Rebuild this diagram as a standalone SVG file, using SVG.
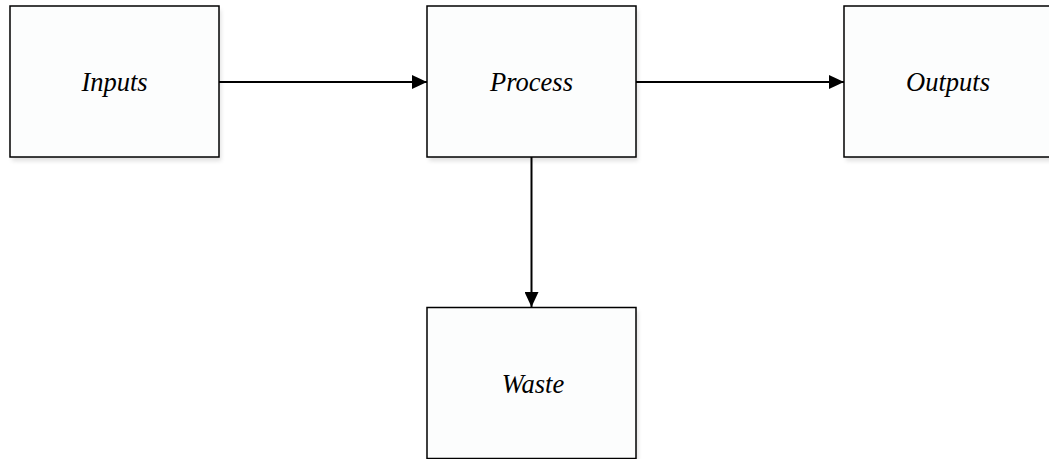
<svg xmlns="http://www.w3.org/2000/svg" width="1049" height="459" viewBox="0 0 1049 459">
<style>
.box{fill:#fcfdfd;stroke:#000;stroke-width:1.5}
.sh{fill:#000;opacity:0.12;filter:url(#blur)}
.lbl{font-family:"Liberation Serif",serif;font-style:italic;font-size:26.5px;fill:#000;text-anchor:middle}
.edge{stroke:#000;stroke-width:2;fill:none}
</style>
<defs>
<filter id="blur" x="-10%" y="-10%" width="120%" height="130%"><feGaussianBlur stdDeviation="2"/></filter>
<marker id="arr" viewBox="0 0 15 14" refX="15" refY="7" markerWidth="15" markerHeight="14" markerUnits="userSpaceOnUse" orient="auto"><path d="M0,0 L15,7 L0,14 Z" fill="#000"/></marker>
</defs>
<rect width="1049" height="459" fill="#fff"/>
<g id="inputs"><rect class="sh" x="12" y="10" width="209" height="151"/><rect class="box" x="10" y="6" width="209" height="151"/><text class="lbl" x="114.5" y="91">Inputs</text></g>
<g id="process"><rect class="sh" x="429" y="10" width="209" height="151"/><rect class="box" x="427" y="6" width="209" height="151"/><text class="lbl" x="531.5" y="91">Process</text></g>
<g id="outputs"><rect class="sh" x="846" y="10" width="209" height="151"/><rect class="box" x="844" y="6" width="209" height="151"/><text class="lbl" x="948" y="91">Outputs</text></g>
<g id="waste"><rect class="sh" x="429" y="311" width="209" height="151"/><rect class="box" x="427" y="307.5" width="209" height="151"/><text class="lbl" x="533" y="393">Waste</text></g>
<g id="connectors">
<line class="edge" x1="219" y1="82" x2="427" y2="82" marker-end="url(#arr)"/>
<line class="edge" x1="636" y1="82" x2="844" y2="82" marker-end="url(#arr)"/>
<line class="edge" x1="531.5" y1="157" x2="531.5" y2="307" marker-end="url(#arr)"/>
</g>
</svg>
